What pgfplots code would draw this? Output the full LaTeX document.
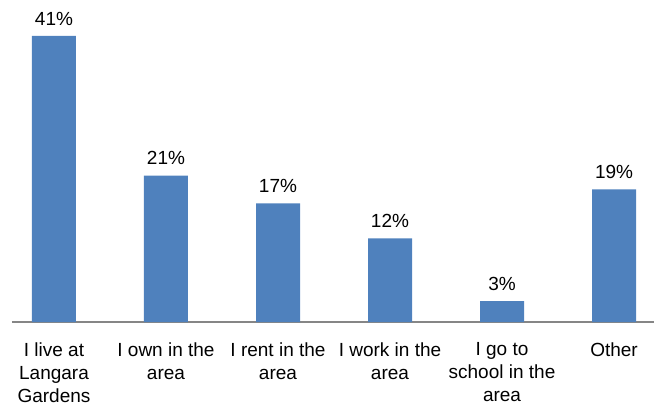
\documentclass[border=0pt]{standalone}
\usepackage{fontspec}
\setmainfont{Liberation Sans}
\usepackage{pgfplots}
\pgfplotsset{compat=1.18}
\definecolor{barblue}{HTML}{4F81BD}
\definecolor{axgray}{HTML}{868686}
\begin{document}
\begin{tikzpicture}
\begin{axis}[
  x=84pt, y=5.232pt,
  xmin=-0.375, xmax=5.357, ymin=0, ymax=46.16,
  axis x line*=bottom, axis y line=none,
  x axis line style={draw=axgray, line width=0.9pt},
  ybar, bar width=33pt, bar shift=0pt,
  xtick={0,1,2,3,4,5},
  xticklabels={{I live at\\Langara\\Gardens},{I own in the\\area},{I rent in the\\area},{I work in the\\area},{I go to\\school in the\\area},{Other}},
  xticklabel style={align=center, font=\fontsize{14.25}{17.25}\selectfont, text=black, yshift=-12pt},
  ytick=\empty,
  major tick length=0pt,
  /pgf/number format/assume math mode=true,
  nodes near coords={\pgfmathprintnumber{\pgfplotspointmeta}\%},
  nodes near coords style={font=\fontsize{14.25}{17.25}\selectfont, text=black, yshift=4.5pt},
  clip=false,
]
\addplot[fill=barblue, draw=none] coordinates {(0,41) (1,21) (2,17) (3,12) (4,3) (5,19)};
\coordinate (bl) at (axis cs:-0.482,-12.18);
\coordinate (tr) at (axis cs:5.357,46.16);
\end{axis}
\pgfresetboundingbox
\path[use as bounding box] (bl) rectangle (tr);
\end{tikzpicture}
\end{document}
